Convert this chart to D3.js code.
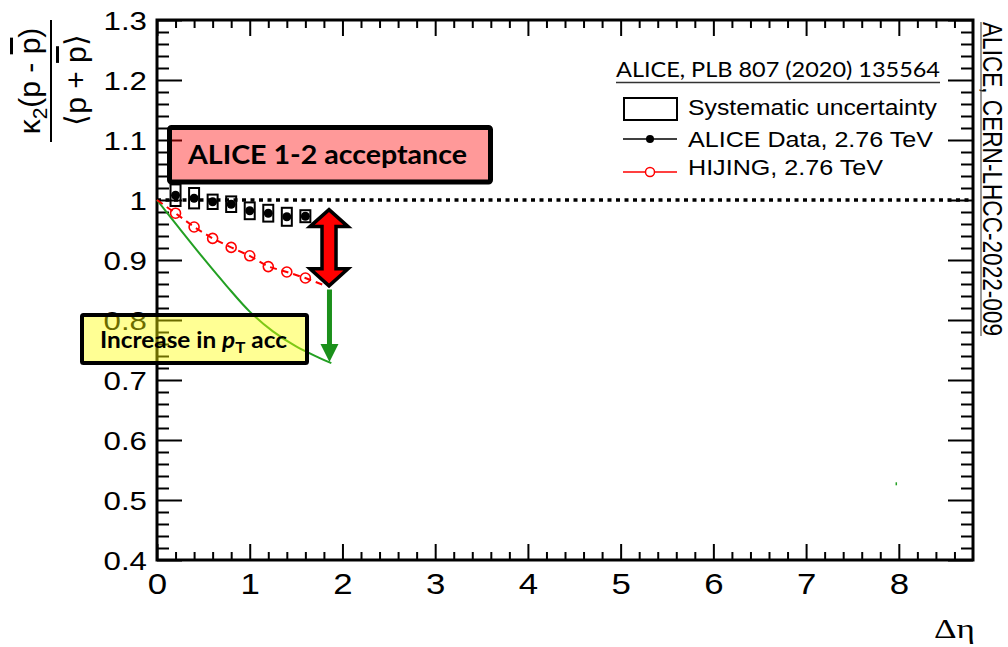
<!DOCTYPE html>
<html>
<head>
<meta charset="utf-8">
<title>kappa2 net-proton vs delta eta</title>
<script src="https://d3js.org/d3.v7.min.js"></script>
<style>
  body { margin: 0; background: #fff; }
  svg text { font-family: "Liberation Sans", Arial, sans-serif; fill: #000; }
  .tick line { stroke: #000; stroke-width: 2; }
</style>
</head>
<body>
<svg id="chart" width="1008" height="647"></svg>
<script>
// ALICE data, 2.76 TeV (points + systematic boxes)
var aliceEta = [0.2, 0.4, 0.6, 0.8, 1.0, 1.2, 1.4, 1.6];
var aliceVal = [1.008, 1.003, 0.997, 0.993, 0.982, 0.978, 0.972, 0.973];
var aliceSys = [0.018, 0.017, 0.012, 0.013, 0.014, 0.014, 0.015, 0.010];

// HIJING, 2.76 TeV (first/last points sit under the axis / the arrow)
var hijingEta = [0, 0.2, 0.4, 0.6, 0.8, 1.0, 1.2, 1.4, 1.6, 1.8];
var hijingVal = [1.0, 0.978, 0.955, 0.936, 0.921, 0.907, 0.889, 0.880, 0.870, 0.858];

// green curve: increase in pT acceptance
var ptEta = [0, 0.25, 0.5, 0.75, 1.0, 1.25, 1.5, 1.75, 1.88];
var ptVal = [1.0, 0.951, 0.903, 0.857, 0.814, 0.781, 0.756, 0.737, 0.728];
var strayEta = [7.97];
var strayVal = [0.527];

// annotation arrows, in data units
var accArrow = {eta: 1.855, top: 0.984, bottom: 0.857};
var ptArrow = {eta: 1.86, top: 0.851, bottom: 0.730};

// axes
var xDomain = [0, 8.8];
var yDomain = [0.4, 1.3];
var xTicks = [0, 1, 2, 3, 4, 5, 6, 7, 8];
var xTickLabels = ["0", "1", "2", "3", "4", "5", "6", "7", "8"];
var yTicks = [0.4, 0.5, 0.6, 0.7, 0.8, 0.9, 1.0, 1.1, 1.2, 1.3];
var yTickLabels = ["0.4", "0.5", "0.6", "0.7", "0.8", "0.9", "1", "1.1", "1.2", "1.3"];

var legendTitle = "ALICE, PLB 807 (2020) 135564";
var legendLabels = ["Systematic uncertainty", "ALICE Data, 2.76 TeV", "HIJING, 2.76 TeV"];

var svg = d3.select("#chart");
var frame = {left: 157, right: 973, top: 20, bottom: 560};

var x = d3.scaleLinear().domain(xDomain).range([frame.left, frame.right]);
var y = d3.scaleLinear().domain(yDomain).range([frame.bottom, frame.top]);

var xMinor = d3.range(0, 45).map(function(i) { return i * 0.2; })
  .filter(function(v) { return Math.abs(v - Math.round(v)) > 1e-6 && v < 8.75; });
var yMinor = d3.range(0, 46).map(function(i) { return 0.4 + i * 0.02; })
  .filter(function(v) { return Math.abs(v * 10 - Math.round(v * 10)) > 1e-6 && v < 1.295; });

function noLabel() { return ""; }

// bottom
var gx = svg.append("g").attr("transform", "translate(0," + frame.bottom + ")")
  .call(d3.axisBottom(x).tickValues(xTicks)
    .tickFormat(function(d, i) { return xTickLabels[i]; })
    .tickSizeInner(-16).tickSizeOuter(0).tickPadding(13));
gx.selectAll("text").attr("font-size", 29).attr("transform", "scale(1.2,1)");
svg.append("g").attr("transform", "translate(0," + frame.bottom + ")")
  .call(d3.axisBottom(x).tickValues(xMinor).tickFormat(noLabel).tickSizeInner(-8).tickSizeOuter(0));

// top
svg.append("g").attr("transform", "translate(0," + frame.top + ")")
  .call(d3.axisTop(x).tickValues(xTicks).tickFormat(noLabel).tickSizeInner(-16).tickSizeOuter(0));
svg.append("g").attr("transform", "translate(0," + frame.top + ")")
  .call(d3.axisTop(x).tickValues(xMinor).tickFormat(noLabel).tickSizeInner(-8).tickSizeOuter(0));

// left
var gy = svg.append("g").attr("transform", "translate(" + frame.left + ",0)")
  .call(d3.axisLeft(y).tickValues(yTicks)
    .tickFormat(function(d, i) { return yTickLabels[i]; })
    .tickSizeInner(-25).tickSizeOuter(0).tickPadding(10));
gy.selectAll("text").attr("font-size", 25).attr("x", 0).attr("dy", "0.38em")
  .attr("transform", "translate(-10,0) scale(1.25,1)");
svg.append("g").attr("transform", "translate(" + frame.left + ",0)")
  .call(d3.axisLeft(y).tickValues(yMinor).tickFormat(noLabel).tickSizeInner(-12).tickSizeOuter(0));

// right
svg.append("g").attr("transform", "translate(" + frame.right + ",0)")
  .call(d3.axisRight(y).tickValues(yTicks).tickFormat(noLabel).tickSizeInner(-25).tickSizeOuter(0));
svg.append("g").attr("transform", "translate(" + frame.right + ",0)")
  .call(d3.axisRight(y).tickValues(yMinor).tickFormat(noLabel).tickSizeInner(-12).tickSizeOuter(0));

svg.selectAll(".domain").remove();

svg.append("rect")
  .attr("x", frame.left).attr("y", frame.top)
  .attr("width", frame.right - frame.left).attr("height", frame.bottom - frame.top)
  .attr("fill", "none").attr("stroke", "#000").attr("stroke-width", 3);

// axis titles
svg.append("text").attr("x", 975).attr("y", 638).attr("text-anchor", "end")
  .attr("font-size", 28).style("font-family", "'Liberation Serif', 'Times New Roman', serif")
  .attr("textLength", 41).attr("lengthAdjust", "spacingAndGlyphs")
  .text("Δη");

var num = svg.append("text").attr("transform", "translate(40,81) rotate(-90)")
  .attr("text-anchor", "middle").attr("font-size", 30);
num.append("tspan").text("κ");
num.append("tspan").attr("dy", 7).attr("font-size", 21).text("2");
num.append("tspan").attr("dy", -7).text("(p - ");
num.append("tspan").style("text-decoration", "overline").text("p");
num.append("tspan").text(")");

svg.append("line").attr("x1", 51).attr("x2", 51).attr("y1", 20).attr("y2", 142)
  .attr("stroke", "#000").attr("stroke-width", 2);

var den = svg.append("text").attr("transform", "translate(86,80) rotate(-90)")
  .attr("text-anchor", "middle").attr("font-size", 30);
den.append("tspan").text("⟨p + ");
den.append("tspan").style("text-decoration", "overline").text("p");
den.append("tspan").text("⟩");

// reference line at 1
svg.append("line")
  .attr("x1", x(xDomain[0])).attr("x2", x(xDomain[1]))
  .attr("y1", y(1)).attr("y2", y(1))
  .attr("stroke", "#000").attr("stroke-width", 3.5).attr("stroke-dasharray", "4,4.5");

// green pT-acceptance curve
var ptLine = d3.line().curve(d3.curveCatmullRom)
  .x(function(d, i) { return x(ptEta[i]); })
  .y(function(d) { return y(d); });
svg.append("path").datum(ptVal).attr("d", ptLine)
  .attr("fill", "none").attr("stroke", "#23a023").attr("stroke-width", 2);
svg.selectAll(".stray").data(strayVal).enter().append("rect")
  .attr("x", function(d, i) { return x(strayEta[i]) - 0.5; })
  .attr("y", function(d) { return y(d) - 1.5; })
  .attr("width", 1.5).attr("height", 3).attr("fill", "#23a023");

// HIJING
var hijLine = d3.line()
  .x(function(d, i) { return x(hijingEta[i]); })
  .y(function(d) { return y(d); });
svg.append("path").datum(hijingVal).attr("d", hijLine)
  .attr("fill", "none").attr("stroke", "#f00").attr("stroke-width", 2)
  .attr("stroke-dasharray", "7,5");
svg.selectAll(".hij").data(hijingVal.slice(1, -1)).enter().append("circle")
  .attr("cx", function(d, i) { return x(hijingEta[i + 1]); })
  .attr("cy", function(d) { return y(d); })
  .attr("r", 5).attr("fill", "none").attr("stroke", "#f00").attr("stroke-width", 1.6);

// ALICE systematic boxes + points
svg.selectAll(".sys").data(aliceVal).enter().append("rect")
  .attr("x", function(d, i) { return x(aliceEta[i]) - 5; })
  .attr("y", function(d, i) { return y(d + aliceSys[i]); })
  .attr("width", 10)
  .attr("height", function(d, i) { return y(d - aliceSys[i]) - y(d + aliceSys[i]); })
  .attr("fill", "none").attr("stroke", "#000").attr("stroke-width", 2);
svg.selectAll(".pt").data(aliceVal).enter().append("circle")
  .attr("cx", function(d, i) { return x(aliceEta[i]); })
  .attr("cy", function(d) { return y(d); })
  .attr("r", 4.5).attr("fill", "#000");

// legend
svg.append("text").attr("x", 616).attr("y", 77).attr("font-size", 22)
  .style("font-family", "Lato, 'Open Sans', sans-serif")
  .attr("textLength", 324).attr("lengthAdjust", "spacingAndGlyphs")
  .text(legendTitle);
svg.append("line").attr("x1", 616).attr("x2", 940).attr("y1", 82.5).attr("y2", 82.5)
  .attr("stroke", "#333").attr("stroke-width", 1.5);

var legY = [115, 147, 175];
var legLen = [249, 245, 195];
legendLabels.forEach(function(t, i) {
  svg.append("text").attr("x", 688).attr("y", legY[i]).attr("font-size", 22)
    .attr("textLength", legLen[i]).attr("lengthAdjust", "spacingAndGlyphs").text(t);
});
svg.append("rect").attr("x", 624).attr("y", 98).attr("width", 53).attr("height", 22)
  .attr("fill", "none").attr("stroke", "#000").attr("stroke-width", 2);
svg.append("line").attr("x1", 623).attr("x2", 677).attr("y1", 139).attr("y2", 139)
  .attr("stroke", "#000").attr("stroke-width", 1.5);
svg.append("circle").attr("cx", 650).attr("cy", 139).attr("r", 4).attr("fill", "#000");
svg.append("line").attr("x1", 623).attr("x2", 677).attr("y1", 172).attr("y2", 172)
  .attr("stroke", "#f00").attr("stroke-width", 1.5);
svg.append("circle").attr("cx", 650).attr("cy", 172).attr("r", 4.5)
  .attr("fill", "#fff").attr("stroke", "#f00").attr("stroke-width", 1.5);

// side reference
svg.append("text").attr("transform", "translate(983,22) rotate(90)")
  .attr("font-size", 27).attr("textLength", 314).attr("lengthAdjust", "spacingAndGlyphs")
  .text("ALICE, CERN-LHCC-2022-009");
svg.append("line").attr("x1", 981).attr("x2", 981).attr("y1", 22).attr("y2", 336)
  .attr("stroke", "#555").attr("stroke-width", 1.2);

// double arrow: acceptance gap
var ax = x(accArrow.eta), at = y(accArrow.top), ab = y(accArrow.bottom);
var hw = 19, hl = 17, sw = 7;
var dbl = [[ax, at], [ax + hw, at + hl], [ax + sw, at + hl], [ax + sw, ab - hl], [ax + hw, ab - hl],
  [ax, ab], [ax - hw, ab - hl], [ax - sw, ab - hl], [ax - sw, at + hl], [ax - hw, at + hl]];
svg.append("path").attr("d", "M" + dbl.join("L") + "Z")
  .attr("fill", "#f00").attr("stroke", "#000").attr("stroke-width", 3.5)
  .attr("stroke-linejoin", "miter");

// green arrow
var gxp = x(ptArrow.eta), gt = y(ptArrow.top), gb = y(ptArrow.bottom);
var garr = [[gxp - 2.5, gt], [gxp + 2.5, gt], [gxp + 2.5, gb - 18], [gxp + 9, gb - 18], [gxp, gb],
  [gxp - 9, gb - 18], [gxp - 2.5, gb - 18]];
svg.append("path").attr("d", "M" + garr.join("L") + "Z").attr("fill", "#1b901b");

// annotation boxes
svg.append("rect").attr("x", 169.5).attr("y", 127.5).attr("width", 321).attr("height", 54.5)
  .attr("rx", 2).attr("fill", "#f00").attr("fill-opacity", 0.4)
  .attr("stroke", "#000").attr("stroke-width", 5);
svg.append("text").attr("x", 188).attr("y", 164).attr("font-size", 27)
  .attr("font-weight", "bold").style("font-family", "Lato, 'Open Sans', sans-serif")
  .attr("textLength", 279).attr("lengthAdjust", "spacingAndGlyphs")
  .text("ALICE 1-2 acceptance");

svg.append("rect").attr("x", 82).attr("y", 315).attr("width", 225).attr("height", 48)
  .attr("rx", 1.5).attr("fill", "#ff0").attr("fill-opacity", 0.42)
  .attr("stroke", "#000").attr("stroke-width", 4);
var yt = svg.append("text").attr("x", 100).attr("y", 347.5).attr("font-size", 23)
  .attr("font-weight", "bold").style("font-family", "Lato, 'Open Sans', sans-serif")
  .attr("textLength", 187).attr("lengthAdjust", "spacingAndGlyphs");
yt.append("tspan").text("Increase in ");
yt.append("tspan").attr("font-style", "italic").text("p");
yt.append("tspan").attr("dy", 5).attr("font-size", 16).text("T");
yt.append("tspan").attr("dy", -5).text(" acc");
</script>
</body>
</html>
